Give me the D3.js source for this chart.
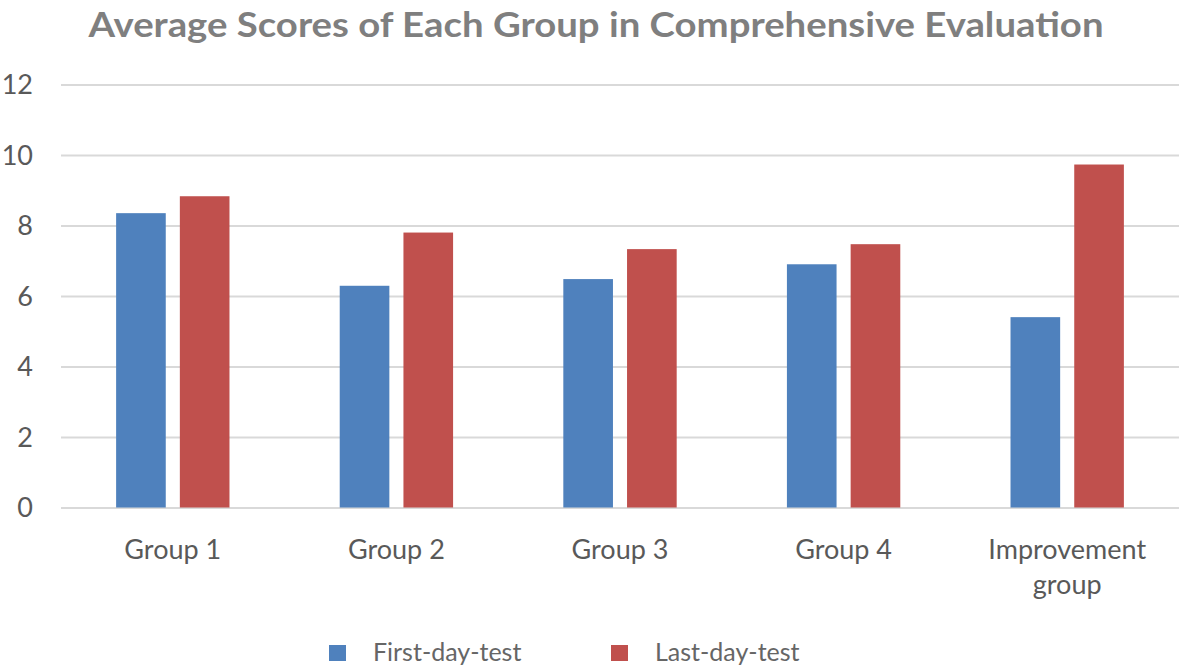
<!DOCTYPE html>
<html>
<head>
<meta charset="utf-8">
<script src="https://cdn.jsdelivr.net/npm/d3@7"></script>
<style>
  html, body { margin: 0; padding: 0; background: #fff; }
  svg { display: block; }
  text { font-family: Lato, "Open Sans", sans-serif; }
</style>
</head>
<body>
<svg id="chart" width="1181" height="668"></svg>
<script>
const categories = ["Group 1", "Group 2", "Group 3", "Group 4", "Improvement group"];
const seriesNames = ["First-day-test", "Last-day-test"];
const firstDay = [8.35, 6.29, 6.48, 6.9, 5.4];
const lastDay = [8.83, 7.8, 7.33, 7.47, 9.73];
const yTicks = [0, 2, 4, 6, 8, 10, 12];
const colors = ["#4f81bd", "#c0504d"];

const svg = d3.select("#chart");
const W = 1181, H = 668;
const margin = { left: 61, right: 2, top: 84.5, bottom: 160.5 };
const y = d3.scaleLinear().domain([0, 12]).range([H - margin.bottom, margin.top]);
const x0 = d3.scaleBand().domain(categories).range([margin.left, W - margin.right]).paddingInner(0).paddingOuter(0);
const barW = x0.bandwidth() * 0.222;
const gap = x0.bandwidth() * 0.063;
const x1 = d3.scaleOrdinal().domain(seriesNames).range([-(gap / 2 + barW), gap / 2]);

// title
svg.append("text")
  .attr("x", 596).attr("y", 37)
  .attr("text-anchor", "middle")
  .attr("font-size", 35).attr("font-weight", "bold")
  .attr("fill", "#7f7f7f")
  .attr("textLength", 1015).attr("lengthAdjust", "spacingAndGlyphs")
  .text("Average Scores of Each Group in Comprehensive Evaluation");

// gridlines
const yAxis = d3.axisLeft(y).tickValues(yTicks).tickSize(-(W - margin.left - margin.right)).tickFormat(d3.format("d"));
const gy = svg.append("g").attr("transform", `translate(${margin.left},0)`).call(yAxis);
gy.select(".domain").remove();
gy.selectAll(".tick line").attr("stroke", "#d9d9d9").attr("stroke-width", 2);
gy.selectAll(".tick text").attr("x", -28).attr("text-anchor", "end")
  .attr("font-size", 27).attr("fill", "#595959").attr("dy", "0.35em")
  .attr("font-family", "Lato, 'Open Sans', sans-serif");

// bars
const data = categories.map((c, i) => ({ cat: c, vals: [firstDay[i], lastDay[i]] }));
const groups = svg.append("g").selectAll("g").data(data).join("g")
  .attr("transform", d => `translate(${x0(d.cat) + x0.bandwidth() / 2},0)`);
groups.selectAll("rect").data(d => d.vals.map((v, j) => ({ v, s: seriesNames[j], j })))
  .join("rect")
  .attr("x", d => x1(d.s))
  .attr("width", barW)
  .attr("y", d => y(d.v))
  .attr("height", d => y(0) - y(d.v))
  .attr("fill", d => colors[d.j]);

// x labels
const xl = svg.append("g").selectAll("text").data(categories).join("text")
  .attr("x", d => x0(d) + x0.bandwidth() / 2)
  .attr("y", 559)
  .attr("text-anchor", "middle")
  .attr("font-size", 27).attr("fill", "#595959");
xl.each(function(d) {
  const t = d3.select(this);
  const parts = d === "Improvement group" ? ["Improvement", "group"] : [d];
  parts.forEach((p, i) => {
    t.append("tspan").attr("x", x0(d) + x0.bandwidth() / 2).attr("dy", i === 0 ? 0 : 35).text(p);
  });
});

// legend
const legendX = [329, 611];
const lg = svg.append("g").selectAll("g").data(seriesNames).join("g")
  .attr("transform", (d, i) => `translate(${legendX[i]},645)`);
lg.append("rect").attr("width", 17).attr("height", 16).attr("fill", (d, i) => colors[i]);
lg.append("text").attr("x", 44).attr("y", 16)
  .attr("font-size", 25).attr("fill", "#666666")
  .text(d => d);
</script>
</body>
</html>
